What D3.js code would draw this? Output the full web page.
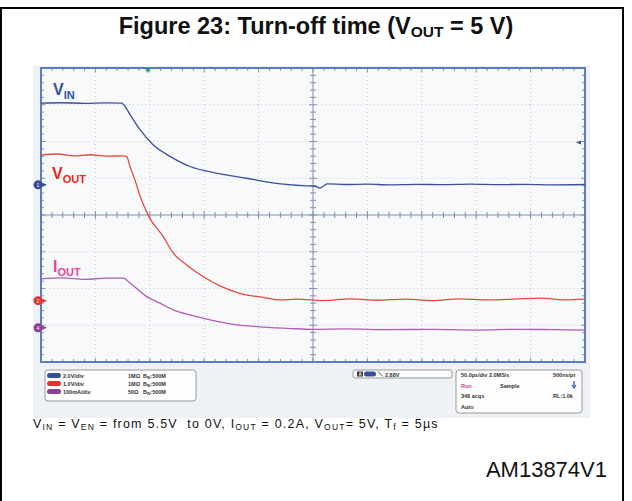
<!DOCTYPE html>
<html>
<head>
<meta charset="utf-8">
<script src="https://cdn.jsdelivr.net/npm/d3@7"></script>
<style>
  body { margin: 0; background: #fff; }
  text { font-family: "Liberation Sans", Arial, sans-serif; }
</style>
</head>
<body>
<script>
// Traces: [time in µs, value in channel units]
var vinData = [[0, 4.45], [20, 4.47], [40, 4.44], [60, 4.46], [74, 4.45], [78, 4.2], [82, 3.81], [91, 3.0],
               [103, 2.18], [119, 1.54], [137, 1.0], [161, 0.64], [189, 0.36], [220, 0.05], [240, -0.04],
               [253, -0.09], [256, -0.18], [260, -0.05], [263, 0.05], [280, 0.02], [300, 0.04], [320, 0.0],
               [345, 0.03], [370, 0.01], [395, 0.04], [420, 0.01], [445, 0.03], [470, 0.0], [500, 0.02]];
var voutData = [[0, 3.96], [15, 3.99], [30, 3.94], [45, 3.97], [60, 3.93], [75.4, 3.94], [78.8, 3.92], [81.8, 3.65],
                [86.4, 3.28], [91, 2.85], [99.3, 2.28], [112.4, 1.74], [121.6, 1.29], [133.9, 0.97],
                [149.2, 0.65], [167.6, 0.36], [186, 0.17], [204.3, 0.09], [220, 0.02], [235, 0.04],
                [260, 0.0], [285, 0.05], [310, 0.01], [335, 0.04], [360, 0.0], [385, 0.05], [410, 0.02],
                [435, 0.04], [460, 0.07], [480, 0.02], [500, 0.04]];
var ioutData = [[0, 133], [20, 136], [40, 132], [60, 135], [75.6, 135], [81.8, 122], [97.2, 85], [109.4, 67],
                [121.6, 49], [137, 35], [149.2, 26], [173.7, 11], [204.3, 2], [230, -2], [250.3, -4],
                [280, -3], [320, -5], [360, -4], [400, -6], [440, -4], [470, -5], [500, -6]];

// channel settings
var channelNames = ["V_IN", "V_OUT", "I_OUT"];
var unitsPerDiv = [2, 1, 100];
var groundDiv = [0.82, -2.33, -3.07];
var channelNum = ["1", "2", "4"];

var triggerTime = 98;
var triggerLevel = 2.3;

var scaleRows = [["2.0V/div", "1MΩ", "500M"], ["1.0V/div", "1MΩ", "500M"], ["100mA/div", "50Ω", "500M"]];
var acqRows = [["50.0µs/div 2.0MS/s", "500ns/pt"], ["Run", "Sample"], ["348 acqs", "RL:1.0k"], ["Auto", ""]];
var triggerText = "2.88V";

// colours
var traceColor = ["#3b4f9e", "#e5473f", "#b25db9"];
var labelColor = ["#2f52a6", "#e8261f", "#e6479b"];
var markerColor = ["#3a4d9c", "#e0352e", "#8b3f98"];

var svg = d3.select("body").append("svg")
  .attr("width", 632)
  .attr("height", 501);

// outer figure frame
svg.append("rect")
  .attr("x", 1).attr("y", 8).attr("width", 622).attr("height", 494)
  .attr("fill", "none").attr("stroke", "#000").attr("stroke-width", 2);

// title
var title = svg.append("text")
  .attr("x", 316).attr("y", 34)
  .attr("text-anchor", "middle")
  .attr("font-size", 23.5).attr("font-weight", "bold").attr("fill", "#111");
title.append("tspan").text("Figure 23: Turn-off time (V");
title.append("tspan").attr("font-size", 15.5).attr("dy", 3).text("OUT");
title.append("tspan").attr("dy", -3).text(" = 5 V)");

// scope screen background
svg.append("rect")
  .attr("x", 33).attr("y", 66).attr("width", 557).attr("height", 352)
  .attr("fill", "#eef2f6");

// scales
var xScale = d3.scaleLinear().domain([0, 500]).range([41, 585]);
var yScale = d3.scaleLinear().domain([-4, 4]).range([362, 68]);

svg.append("rect")
  .attr("x", xScale(0)).attr("y", yScale(4))
  .attr("width", xScale(500) - xScale(0)).attr("height", yScale(-4) - yScale(4))
  .attr("fill", "#f8f9fb");

// dotted graticule
var grid = svg.append("g").attr("stroke", "#c3c9d3").attr("stroke-dasharray", "1,3");
d3.range(50, 500, 50).filter(function(d) { return d != 250; }).forEach(function(t) {
  grid.append("line").attr("x1", xScale(t)).attr("x2", xScale(t))
    .attr("y1", yScale(4)).attr("y2", yScale(-4));
});
d3.range(-3, 4, 1).filter(function(d) { return d != 0; }).forEach(function(v) {
  grid.append("line").attr("y1", yScale(v)).attr("y2", yScale(v))
    .attr("x1", xScale(0)).attr("x2", xScale(500));
});

// centre cross and minor ticks
var cross = svg.append("g").attr("stroke", "#7d8fb3").attr("stroke-width", 1);
cross.append("line").attr("x1", xScale(0)).attr("x2", xScale(500)).attr("y1", yScale(0)).attr("y2", yScale(0));
cross.append("line").attr("x1", xScale(250)).attr("x2", xScale(250)).attr("y1", yScale(4)).attr("y2", yScale(-4));
d3.range(0, 500.1, 10).forEach(function(t) {
  var len = (t % 50 == 0) ? 4 : 3;
  cross.append("line").attr("x1", xScale(t)).attr("x2", xScale(t)).attr("y1", yScale(0) - len).attr("y2", yScale(0) + len);
  cross.append("line").attr("x1", xScale(t)).attr("x2", xScale(t)).attr("y1", yScale(4)).attr("y2", yScale(4) + len);
  cross.append("line").attr("x1", xScale(t)).attr("x2", xScale(t)).attr("y1", yScale(-4)).attr("y2", yScale(-4) - len);
});
d3.range(-4, 4.01, 0.2).forEach(function(v) {
  var len = (Math.abs(v - Math.round(v)) < 0.01) ? 4 : 3;
  cross.append("line").attr("y1", yScale(v)).attr("y2", yScale(v)).attr("x1", xScale(250) - len).attr("x2", xScale(250) + len);
  cross.append("line").attr("y1", yScale(v)).attr("y2", yScale(v)).attr("x1", xScale(0)).attr("x2", xScale(0) + len);
  cross.append("line").attr("y1", yScale(v)).attr("y2", yScale(v)).attr("x1", xScale(500)).attr("x2", xScale(500) - len);
});

// screen frame
svg.append("rect")
  .attr("x", xScale(0)).attr("y", yScale(4))
  .attr("width", xScale(500) - xScale(0)).attr("height", yScale(-4) - yScale(4))
  .attr("fill", "none").attr("stroke", "#5a7dc0").attr("stroke-width", 2);

// traces
var allData = [vinData, voutData, ioutData];
allData.forEach(function(data, i) {
  var line = d3.line()
    .curve(d3.curveMonotoneX)
    .x(function(d) { return xScale(d[0]); })
    .y(function(d) { return yScale(groundDiv[i] + d[1] / unitsPerDiv[i]); });
  svg.append("path")
    .datum(data)
    .attr("fill", "none")
    .attr("stroke", traceColor[i])
    .attr("stroke-width", 1.3)
    .attr("d", line);
});

// channel labels
var labelPos = [[53, 95], [52, 179], [53, 272]];
channelNames.forEach(function(name, i) {
  var parts = name.split("_");
  var t = svg.append("text")
    .attr("x", labelPos[i][0]).attr("y", labelPos[i][1])
    .attr("font-size", 16).attr("font-weight", "bold").attr("fill", labelColor[i]);
  t.append("tspan").text(parts[0]);
  t.append("tspan").attr("font-size", 11).attr("dy", 4).text(parts[1]);
});

// ground markers
groundDiv.forEach(function(g, i) {
  var y = yScale(g);
  var m = svg.append("g").attr("transform", "translate(38," + y + ")");
  m.append("path").attr("d", "M3,-2.5 L9,0 L3,2.5 Z").attr("fill", markerColor[i]);
  m.append("circle").attr("r", 4.5).attr("fill", markerColor[i]);
  m.append("text").attr("text-anchor", "middle").attr("y", 2).attr("font-size", 5).attr("fill", "#fff").text(channelNum[i]);
});

// trigger position and level markers
svg.append("path")
  .attr("transform", "translate(" + xScale(triggerTime) + "," + yScale(4) + ")")
  .attr("d", "M-3,0 L3,0 L0,5 Z").attr("fill", "#1f9b8e");
svg.append("path")
  .attr("transform", "translate(" + (xScale(500) - 6) + "," + yScale(groundDiv[0] + triggerLevel / unitsPerDiv[0]) + ")")
  .attr("d", "M-3,0 L2,-2 L2,2 Z").attr("fill", "#3b4f9e");

// info boxes below the screen
var info = svg.append("g").attr("font-size", 5.5).attr("font-weight", "bold").attr("fill", "#333");

info.append("rect").attr("x", 45).attr("y", 370).attr("width", 151).attr("height", 31).attr("rx", 3)
  .attr("fill", "#fdfdfd").attr("stroke", "#999");
scaleRows.forEach(function(r, i) {
  var y = 376 + i * 8;
  info.append("rect").attr("x", 47).attr("y", y - 3).attr("width", 14).attr("height", 5).attr("rx", 2.5)
    .attr("fill", markerColor[i]);
  info.append("text").attr("x", 63).attr("y", y + 2).attr("fill", "#333").text(r[0]);
  info.append("text").attr("x", 128).attr("y", y + 2).attr("fill", "#333").text(r[1]);
  var bw = info.append("text").attr("x", 143).attr("y", y + 2).attr("fill", "#333");
  bw.append("tspan").text("B");
  bw.append("tspan").attr("font-size", 3.5).attr("dy", 1).text("W");
  bw.append("tspan").attr("dy", -1).text(":" + r[2]);
});

info.append("rect").attr("x", 353).attr("y", 370).attr("width", 99).attr("height", 8).attr("rx", 2)
  .attr("fill", "#fdfdfd").attr("stroke", "#999");
info.append("rect").attr("x", 357).attr("y", 371.5).attr("width", 6).attr("height", 5).attr("fill", "#333");
info.append("text").attr("x", 358.5).attr("y", 375.8).attr("font-size", 4.5).attr("fill", "#fff").text("A");
info.append("rect").attr("x", 364).attr("y", 371.5).attr("width", 12).attr("height", 5).attr("rx", 2.5).attr("fill", markerColor[0]);
info.append("path").attr("d", "M378,371.5 L383,376.5").attr("stroke", "#333").attr("stroke-width", 0.8);
info.append("text").attr("x", 385).attr("y", 376.5).attr("fill", "#333").text(triggerText);

info.append("rect").attr("x", 456).attr("y", 370).attr("width", 126).attr("height", 43).attr("rx", 3)
  .attr("fill", "#fdfdfd").attr("stroke", "#999");
acqRows.forEach(function(r, i) {
  var y = 377 + i * 10.5;
  info.append("text").attr("x", 461).attr("y", y)
    .attr("fill", r[0] == "Run" ? "#c04a90" : "#333").text(r[0]);
  info.append("text").attr("x", r[0] == "Run" ? 500 : 553).attr("y", y).attr("fill", "#333").text(r[1]);
});
info.append("path").attr("d", "M574,381 L574,386 M572,385 L574,388 L576,385")
  .attr("stroke", "#2c50b0").attr("stroke-width", 1.2).attr("fill", "none");

// caption
var cap = svg.append("text").attr("x", 33).attr("y", 428)
  .attr("font-size", 12.5).attr("letter-spacing", 1.2).attr("fill", "#111")
  .style("white-space", "pre");
cap.append("tspan").text("V");
cap.append("tspan").attr("font-size", 8.5).attr("dy", 2).text("IN");
cap.append("tspan").attr("dy", -2).text(" = V");
cap.append("tspan").attr("font-size", 8.5).attr("dy", 2).text("EN");
cap.append("tspan").attr("dy", -2).text(" = from 5.5V  to 0V, I");
cap.append("tspan").attr("font-size", 8.5).attr("dy", 2).text("OUT");
cap.append("tspan").attr("dy", -2).text(" = 0.2A, V");
cap.append("tspan").attr("font-size", 8.5).attr("dy", 2).text("OUT");
cap.append("tspan").attr("dy", -2).text("= 5V, T");
cap.append("tspan").attr("font-size", 8.5).attr("dy", 2).text("f");
cap.append("tspan").attr("dy", -2).text(" = 5µs");

// figure id
svg.append("text")
  .attr("x", 607).attr("y", 477)
  .attr("text-anchor", "end")
  .attr("font-size", 22).attr("fill", "#111")
  .text("AM13874V1");
</script>
</body>
</html>
